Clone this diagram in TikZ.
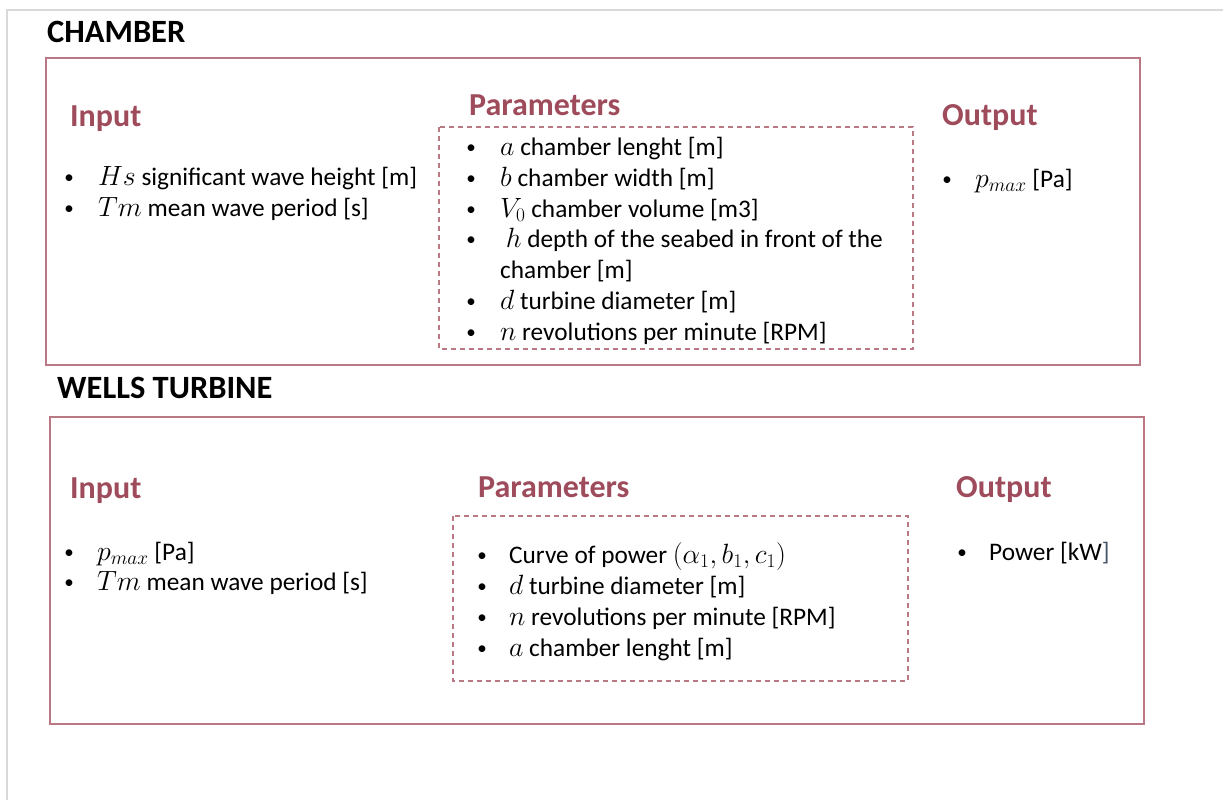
\documentclass[tikz,border=0pt]{standalone}
\usepackage[no-math]{fontspec}
\setmainfont{Carlito}
\usetikzlibrary{positioning}
\definecolor{BoxRose}{HTML}{B97883}
\definecolor{HeadRose}{HTML}{9E4B5B}
\definecolor{PageGray}{HTML}{D9D9D9}
\definecolor{SlateBlue}{HTML}{44546A}
\newcommand{\mv}[1]{\scalebox{1.12}{$#1$}}

\begin{document}
\begin{tikzpicture}[
    x=1pt, y=-1pt,
    title/.style={anchor=base west, inner sep=0pt, font=\fontsize{32.5}{36}\selectfont\bfseries},
    head/.style={anchor=base west, inner sep=0pt, font=\fontsize{32}{36}\selectfont\bfseries, text=HeadRose},
    item/.style={anchor=base west, inner sep=0pt, font=\fontsize{25.3}{30}\selectfont},
    bul/.style={anchor=base, inner sep=0pt, font=\fontsize{19}{22}\selectfont},
    frame/.style={draw=BoxRose, line width=2pt},
    parbox/.style={draw=BoxRose, line width=1.3pt, dash pattern=on 5pt off 4pt}
]
  \useasboundingbox (0,0) rectangle (1223,800);
  % page edge
  \draw[PageGray, line width=1.5pt] (7,800) -- (7,10) -- (1223,10);

  % Chamber block
  \node[title] (chTitle) at (47,43) {CHAMBER};
  \draw[frame] (46,58) rectangle (1140,365);
  \draw[parbox] (439,127) rectangle (913,349);
  \node[head] (chInHead) at (70,126) {Input};
  \node[head] (chParHead) at (469,115) {Parameters};
  \node[head] (chOutHead) at (942,125) {Output};
  \foreach \y/\txt [count=\i] in {185/{\mv{Hs} significant wave height [m]}, 216/{\mv{Tm} mean wave period [s]}}{
    \node[bul] (chInB\i) at (69,\y-2) {\textbullet};
    \node[item] (chIn\i) at (98,\y) {\txt};
  }
  \foreach \y/\txt [count=\i] in {155/{\mv{a} chamber lenght [m]}, 186/{\mv{b} chamber width [m]},
      217/{\mv{V_0} chamber volume [m3]}, 247/{\ \mv{h} depth of the seabed in front of the},
      309/{\mv{d} turbine diameter [m]}, 340/{\mv{n} revolutions per minute [RPM]}}{
    \node[bul] (chParB\i) at (471,\y-2) {\textbullet};
    \node[item] (chPar\i) at (500,\y) {\txt};
  }
  \node[item] (chPar4b) at (500,278) {chamber [m]};
  \node[bul] (chOutB) at (947,185) {\textbullet};
  \node[item] (chOut) at (975,187) {\mv{p_{max}} [Pa]};

  % Wells turbine block
  \node[title] (wtTitle) at (57,398) {WELLS TURBINE};
  \draw[frame] (50,417) rectangle (1144,724);
  \draw[parbox] (453,516) rectangle (908,681);
  \node[head] (wtInHead) at (70,498) {Input};
  \node[head] (wtParHead) at (478,497) {Parameters};
  \node[head] (wtOutHead) at (956,497) {Output};
  \foreach \y/\txt [count=\i] in {560/{\mv{p_{max}} [Pa]}, 590/{\mv{Tm} mean wave period [s]}}{
    \node[bul] (wtInB\i) at (69,\y-2) {\textbullet};
    \node[item] (wtIn\i) at (97,\y) {\txt};
  }
  \foreach \y/\txt [count=\i] in {563/{Curve of power \mv{(\alpha_1, b_1, c_1)}}, 594/{\mv{d} turbine diameter [m]},
      625/{\mv{n} revolutions per minute [RPM]}, 656/{\mv{a} chamber lenght [m]}}{
    \node[bul] (wtParB\i) at (482,\y-2) {\textbullet};
    \node[item] (wtPar\i) at (509,\y) {\txt};
  }
  \node[bul] (wtOutB) at (962,558) {\textbullet};
  \node[item] (wtOut) at (989,560) {Power [kW\textcolor{SlateBlue}{]}};
\end{tikzpicture}
\end{document}
